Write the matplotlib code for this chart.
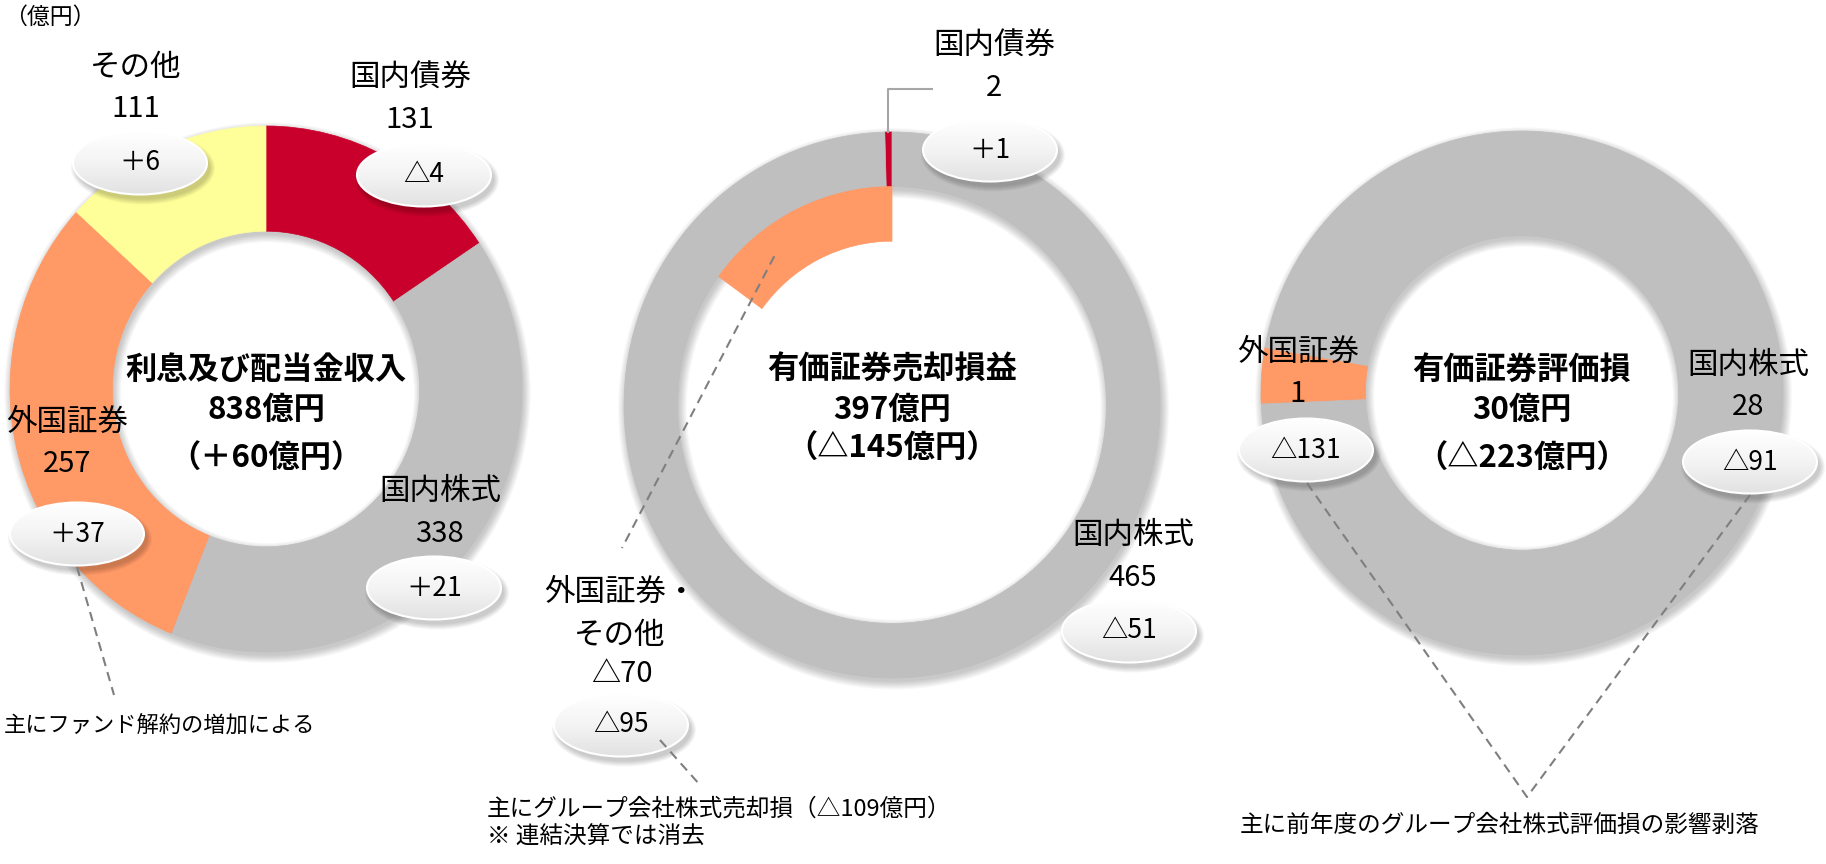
import matplotlib.pyplot as plt
from matplotlib.patches import Ellipse, Wedge
from matplotlib.colors import LinearSegmentedColormap
import numpy as np

plt.rcParams['font.family'] = ['Noto Sans CJK JP', 'DejaVu Sans']

# 利息及び配当金収入（億円）
income_names = ['国内債券', '国内株式', '外国証券', 'その他']
income_values = [131, 338, 257, 111]
income_changes = [-4, 21, 37, 6]
income_total, income_total_change = 838, 60

# 有価証券売却損益（億円）
sale_names = ['国内債券', '国内株式']
sale_values = [2, 465]
sale_changes = [1, -51]
sale_other_name = '外国証券・\nその他'
sale_other_value = -70
sale_other_change = -95
sale_total, sale_total_change = 397, -145

# 有価証券評価損（億円）
loss_names = ['外国証券', '国内株式']
loss_values = [1, 28]
loss_changes = [-131, -91]
loss_total, loss_total_change = 30, -223

W, H = 1826, 864
RED, GRAY, ORANGE, YELLOW = '#C8002B', '#BFBFBF', '#FF9966', '#FFFF99'
PAD = 1.15


def delta(v):
    return f'△{abs(v)}' if v < 0 else f'＋{v}'


def plain(v):
    return f'△{abs(v)}' if v < 0 else f'{v}'


fig = plt.figure(figsize=(W / 100, H / 100), dpi=100)
fig.patch.set_facecolor('white')


def donut_axes(cx, cy, rx, ry):
    a = fig.add_axes([(cx - PAD * rx) / W, (H - cy - PAD * ry) / H,
                      2 * PAD * rx / W, 2 * PAD * ry / H])
    return a


def finish(a, wedges):
    # close the hairline gaps between neighbouring slices
    for w in wedges:
        w.set_edgecolor(w.get_facecolor())
        w.set_linewidth(0.5)
    a.set_aspect('auto')
    a.set_xlim(-PAD, PAD)
    a.set_ylim(-PAD, PAD)
    a.axis('off')


def ring_shadow(a, r, w):
    # soft drop shadow under the ring
    for k in range(8):
        d = 0.004 * k
        a.add_patch(Wedge((0.006, -0.014), r + d, 0, 360, width=w + 2 * d,
                          facecolor='black', alpha=0.026, lw=0, zorder=0))


def to_px(c, r, deg):
    cx, cy, rx, ry = c
    t = np.deg2rad(deg)
    return cx + rx * r * np.cos(t), cy - ry * r * np.sin(t)


D1 = (266, 389, 256, 263)
D2 = (892, 405, 268, 273)
D3 = (1522, 393, 261, 262)

# donut 1
a1 = donut_axes(*D1)
ring_shadow(a1, 1.0, 0.4)
w1, _ = a1.pie(income_values, colors=[RED, GRAY, ORANGE, YELLOW], startangle=90,
               counterclock=False, radius=1.0, wedgeprops=dict(width=0.4))
finish(a1, w1)

# donut 2: outer ring plus the negative part on the inner band
a2 = donut_axes(*D2)
ring_shadow(a2, 1.0, 0.2)
w2, _ = a2.pie(sale_values, colors=[RED, GRAY], startangle=90, counterclock=True,
               radius=1.0, wedgeprops=dict(width=0.2))
w2b, _ = a2.pie([abs(sale_other_value), sum(sale_values) - abs(sale_other_value)],
                colors=[ORANGE, 'none'], startangle=90, counterclock=True, radius=0.8,
                wedgeprops=dict(width=0.2))
finish(a2, w2 + w2b[:1])
w2b[1].set_linewidth(0)

# donut 3
a3 = donut_axes(*D3)
ring_shadow(a3, 1.0, 0.4)
w3, _ = a3.pie(loss_values, colors=[ORANGE, GRAY], startangle=170, counterclock=True,
               radius=1.0, wedgeprops=dict(width=0.4))
finish(a3, w3)

# overlay in pixel coordinates for labels, badges and leader lines
ov = fig.add_axes([0, 0, 1, 1], zorder=10)
ov.set_facecolor('none')

grad = np.linspace(0, 1, 64)[:, None] * np.ones((1, 2))
badge_cmap = LinearSegmentedColormap.from_list('badge', ['#FFFFFF', '#F4F4F4', '#E2E2E2'])


def badge(x, y, text, w=134, h=63):
    for k in range(6):
        ov.add_patch(Ellipse((x + 3, y + 5), w + 2 * k, h + 2 * k, facecolor='black',
                             alpha=0.035, lw=0, zorder=4))
    e = Ellipse((x, y), w, h, facecolor='none', edgecolor='white', lw=1.5, zorder=6)
    ov.add_patch(e)
    im = ov.imshow(grad, cmap=badge_cmap, extent=[x - w / 2, x + w / 2, y + h / 2, y - h / 2],
                   aspect='auto', zorder=5, interpolation='bilinear')
    im.set_clip_path(e)
    ov.text(x, y, text, fontsize=19, ha='center', va='center', zorder=7)


def label(x, y, name, value):
    ov.text(x, y, name, fontsize=22, ha='center', va='center', zorder=8)
    ov.text(x, y + 42, value, fontsize=21, ha='center', va='center', zorder=8)


def title(c, name, total, change, y3=459):
    ov.text(c[0], 370, name, fontsize=22.5, fontweight='bold', ha='center', va='center', zorder=8)
    ov.text(c[0], 410, f'{total}億円', fontsize=22.5, fontweight='bold', ha='center', va='center', zorder=8)
    ov.text(c[0], y3, f'（{delta(change)}億円）', fontsize=22.5, fontweight='bold',
            ha='center', va='center', zorder=8)


dash = dict(color='#7F7F7F', lw=1.5, linestyle=(0, (4.5, 3)), zorder=9)

ov.text(4, 17, '（億円）', fontsize=16.5, ha='left', va='center')

# donut 1 labels
lab1 = [(410, 78), (440, 492), (67, 422), (136, 67)]
bad1 = [(424, 175), (434, 588), (77, 534), (140, 163)]
for n, v, ch, (lx, ly), (bx, by) in zip(income_names, income_values, income_changes, lab1, bad1):
    label(lx, ly, n, plain(v))
    badge(bx, by, delta(ch))
title(D1, '利息及び配当金収入', income_total, income_total_change)
ov.plot([77, 114], [567, 695], **dash)
ov.text(4, 725, '主にファンド解約の増加による', fontsize=16, ha='left', va='center')

# donut 2 labels
red = w2[0]
tx, ty = to_px(D2, 1.0, (red.theta1 + red.theta2) / 2)
ov.plot([tx, tx, 932], [ty, 89, 89], color='#A6A6A6', lw=1.5, zorder=9)
label(994, 46, sale_names[0], plain(sale_values[0]))
badge(990, 150, delta(sale_changes[0]))
label(1133, 536, sale_names[1], plain(sale_values[1]))
badge(1129, 631, delta(sale_changes[1]))
other_lines = sale_other_name.split('\n')
ov.text(620, 592, other_lines[0], fontsize=22, ha='center', va='center', zorder=8)
ov.text(620, 635, other_lines[1], fontsize=22, ha='center', va='center', zorder=8)
ov.text(622, 674, plain(sale_other_value), fontsize=21, ha='center', va='center', zorder=8)
badge(621, 725, delta(sale_other_change))
orange = w2b[0]
sx, sy = to_px(D2, 0.7, orange.theta1 + 0.72 * (orange.theta2 - orange.theta1))
ov.plot([sx, 622], [sy, 548], **dash)
ov.plot([660, 700], [740, 785], **dash)
title(D2, '有価証券売却損益', sale_total, sale_total_change, y3=449)
ov.text(487, 809, '主にグループ会社株式売却損（△109億円）', fontsize=17, ha='left', va='center')
ov.text(487, 837, '※ 連結決算では消去', fontsize=17, ha='left', va='center')

# donut 3 labels
label(1298, 352, loss_names[0], plain(loss_values[0]))
badge(1306, 450, delta(loss_changes[0]))
label(1748, 365, loss_names[1], plain(loss_values[1]))
badge(1750, 462, delta(loss_changes[1]))
title(D3, '有価証券評価損', loss_total, loss_total_change)
ov.plot([1307, 1527, 1750], [483, 797, 495], **dash)
ov.text(1500, 825, '主に前年度のグループ会社株式評価損の影響剥落', fontsize=17, ha='center', va='center')

ov.set_aspect('auto')
ov.set_xlim(0, W)
ov.set_ylim(H, 0)
ov.axis('off')

fig.savefig('out.png', dpi=100, facecolor='white')
